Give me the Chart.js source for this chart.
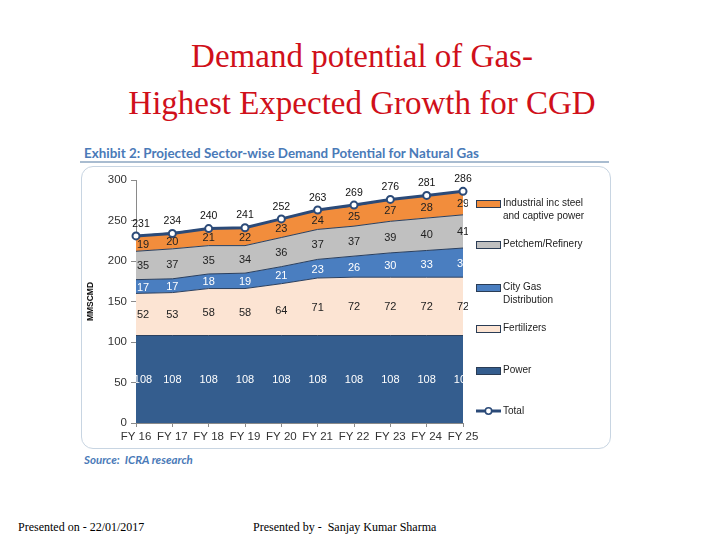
<!DOCTYPE html>
<html>
<head>
<meta charset="utf-8">
<script src="https://cdn.jsdelivr.net/npm/chart.js@4.4.0/dist/chart.umd.min.js"></script>
<style>
  body { margin: 0; width: 720px; height: 540px; background: #fff; position: relative; overflow: hidden; }
  .title { position: absolute; left: 0; top: 33px; width: 724px; text-align: center; font-family: "Liberation Serif", "Times New Roman", serif; font-size: 33px; line-height: 47px; color: #d0101a; }
  .exhibit { position: absolute; left: 84px; top: 145px; font-family: Lato, "Open Sans", sans-serif; font-weight: bold; font-size: 13.4px; color: #4a7ab8; }
  .rule { position: absolute; left: 80px; top: 161px; width: 529px; height: 2px; background: #a9bcd0; }
  .box { position: absolute; left: 81px; top: 166px; width: 528px; height: 281px; border: 1.5px solid #c8d5e2; border-radius: 12px; }
  #chartWrap { position: absolute; left: 82px; top: 167px; }
  .source { position: absolute; left: 84px; top: 453px; font-family: Lato, "Open Sans", sans-serif; font-weight: bold; font-style: italic; font-size: 11.5px; color: #4a7ab8; }
  .footer { position: absolute; top: 520px; font-family: "Liberation Serif", "Times New Roman", serif; font-size: 12px; color: #000; }
  #legend { position: absolute; left: 476px; top: 190px; font-family: "Liberation Sans Narrow", "Arial Narrow", "Liberation Sans", sans-serif; font-size: 10px; color: #222; }
  .item { position: absolute; left: 0; white-space: nowrap; line-height: 13px; }
  .sw { position: absolute; left: 0; top: 4px; width: 23px; height: 6px; border: 1px solid #2a3c55; }
  .txt { position: absolute; left: 27px; top: 0; }
</style>
</head>
<body>
<div class="title">Demand potential of Gas-<br>Highest Expected Growth for CGD</div>
<div class="exhibit">Exhibit 2: Projected Sector-wise Demand Potential for Natural Gas</div>
<div class="rule"></div>
<div class="box"></div>
<div id="chartWrap"><canvas id="gasChart" width="528" height="281"></canvas></div>
<div id="legend"></div>
<div class="source">Source:&nbsp; ICRA research</div>
<div class="footer" style="left:18px">Presented on - 22/01/2017</div>
<div class="footer" style="left:253px">Presented by -&nbsp; Sanjay Kumar Sharma</div>
<script>
// Data read from the exhibit (MMSCMD)
const years = ['FY 16', 'FY 17', 'FY 18', 'FY 19', 'FY 20', 'FY 21', 'FY 22', 'FY 23', 'FY 24', 'FY 25'];
const power = [108, 108, 108, 108, 108, 108, 108, 108, 108, 108];
const fertilizers = [52, 53, 58, 58, 64, 71, 72, 72, 72, 72];
const cityGas = [17, 17, 18, 19, 21, 23, 26, 30, 33, 36];
const petchem = [35, 37, 35, 34, 36, 37, 37, 39, 40, 41];
const industrial = [19, 20, 21, 22, 23, 24, 25, 27, 28, 29];
const total = [231, 234, 240, 241, 252, 263, 269, 276, 281, 286];
const yTicks = [0, 50, 100, 150, 200, 250, 300];

const areas = [
    { label: 'Power', data: power, color: '#345d8e', text: '#fff' },
    { label: 'Fertilizers', data: fertilizers, color: '#fce4d3', text: '#222' },
    { label: 'City Gas Distribution', data: cityGas, color: '#4a7ec0', text: '#fff' },
    { label: 'Petchem/Refinery', data: petchem, color: '#c0c0c0', text: '#222' },
    { label: 'Industrial inc steel and captive power', data: industrial, color: '#f28d3c', text: '#222' }
];

const datasets = areas.map((a, i) => ({
    label: a.label,
    data: a.data,
    backgroundColor: a.color,
    borderColor: '#2a3f5e',
    borderWidth: 1,
    fill: i === 0 ? 'origin' : '-1',
    pointRadius: 0,
    tension: 0,
    stack: 'sectors',
    order: 1
}));
datasets.push({
    label: 'Total',
    data: total,
    borderColor: '#2b4a78',
    borderWidth: 3,
    backgroundColor: '#fff',
    pointBackgroundColor: '#fff',
    pointBorderColor: '#2b4a78',
    pointBorderWidth: 2,
    pointRadius: 3.5,
    fill: false,
    tension: 0,
    stack: 'total',
    order: 0
});

// value labels inside each band and above the total line
const bandLabels = {
    id: 'bandLabels',
    afterDatasetsDraw(chart) {
        const ctx = chart.ctx;
        const area = chart.chartArea;
        const yScale = chart.scales.y;
        ctx.save();
        ctx.beginPath();
        ctx.rect(area.left, 0, area.right - area.left + 5, chart.height);
        ctx.clip();
        ctx.font = '11px "Liberation Sans Narrow", "Arial Narrow", sans-serif';
        ctx.textAlign = 'center';
        ctx.textBaseline = 'middle';
        areas.forEach((a, i) => {
            const meta = chart.getDatasetMeta(i);
            const below = i > 0 ? chart.getDatasetMeta(i - 1) : null;
            ctx.fillStyle = a.text;
            meta.data.forEach((pt, j) => {
                const bottom = below ? below.data[j].y : yScale.getPixelForValue(0);
                const x = j === 0 ? pt.x + 7 : pt.x;
                ctx.fillText(String(a.data[j]), x, (pt.y + bottom) / 2 + 1);
            });
        });
        ctx.restore();

        ctx.save();
        const tMeta = chart.getDatasetMeta(areas.length);
        ctx.fillStyle = '#111';
        ctx.font = '10.5px "Liberation Sans Narrow", "Arial Narrow", sans-serif';
        ctx.textAlign = 'center';
        ctx.textBaseline = 'bottom';
        tMeta.data.forEach((pt, j) => {
            const x = j === 0 ? pt.x + 5 : pt.x;
            ctx.fillText(String(total[j]), x, pt.y - 7);
        });
        ctx.restore();
    }
};

new Chart(document.getElementById('gasChart'), {
    type: 'line',
    data: { labels: years, datasets: datasets },
    options: {
        responsive: false,
        animation: false,
        layout: { padding: { left: 4, right: 147, top: 13, bottom: 0 } },
        plugins: { legend: { display: false }, tooltip: { enabled: false } },
        scales: {
            x: {
                offset: false,
                grid: { drawOnChartArea: false, drawTicks: true, tickLength: 4, color: '#8a8a8a' },
                border: { color: '#8a8a8a' },
                ticks: { color: '#333', font: { family: 'Liberation Sans Narrow, Arial Narrow, sans-serif', size: 11.5 }, padding: 3, maxRotation: 0 },
                afterFit: s => { s.height = 25; }
            },
            y: {
                stacked: true,
                min: 0,
                max: 300,
                grid: { drawOnChartArea: false, drawTicks: true, tickLength: 5, color: '#8a8a8a' },
                border: { color: '#8a8a8a' },
                afterBuildTicks: s => { s.ticks = yTicks.map(v => ({ value: v })); },
                ticks: { color: '#333', font: { family: 'Liberation Sans Narrow, Arial Narrow, sans-serif', size: 11.5 }, padding: 4 },
                title: { display: true, text: 'MMSCMD', color: '#111', font: { family: 'Liberation Sans', size: 8.5, weight: 'bold' }, padding: 0 },
                afterFit: s => { s.width = 50; }
            }
        }
    },
    plugins: [bandLabels]
});

// legend (top-most series first)
const legendItems = [
    { lines: ['Industrial inc steel', 'and captive power'], color: '#f28d3c', top: 6 },
    { lines: ['Petchem/Refinery'], color: '#c0c0c0', top: 47 },
    { lines: ['City Gas', 'Distribution'], color: '#4a7ec0', top: 90 },
    { lines: ['Fertilizers'], color: '#fce4d3', top: 131 },
    { lines: ['Power'], color: '#345d8e', top: 173 }
];
const legend = document.getElementById('legend');
legendItems.forEach(it => {
    const d = document.createElement('div');
    d.className = 'item';
    d.style.top = it.top + 'px';
    d.innerHTML = '<div class="sw" style="background:' + it.color + '"></div><div class="txt">' + it.lines.join('<br>') + '</div>';
    legend.appendChild(d);
});
const tot = document.createElement('div');
tot.className = 'item';
tot.style.top = '214px';
tot.innerHTML = '<svg width="25" height="13" style="position:absolute;left:0;top:0"><line x1="0" y1="7" x2="25" y2="7" stroke="#2b4a78" stroke-width="3"/><circle cx="12.5" cy="7" r="3.2" fill="#fff" stroke="#2b4a78" stroke-width="1.6"/></svg><div class="txt">Total</div>';
legend.appendChild(tot);
</script>
</body>
</html>
